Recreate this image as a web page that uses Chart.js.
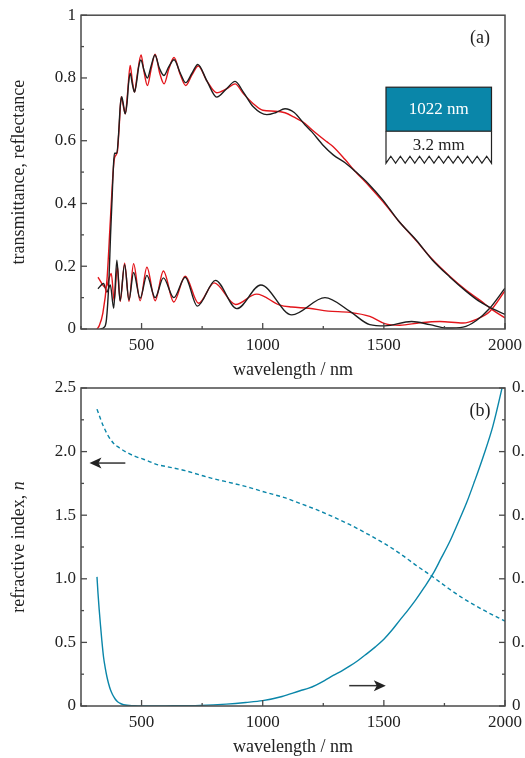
<!DOCTYPE html>
<html>
<head>
<meta charset="utf-8">
<script src="https://cdn.jsdelivr.net/npm/chart.js@4.4.1/dist/chart.umd.min.js"></script>
<style>
  html, body { margin: 0; padding: 0; background: #fff; overflow: hidden; }
  #wrap { position: relative; width: 525px; height: 758px; overflow: hidden; }
  canvas { position: absolute; left: 0; }
  #chartA { top: 0; }
  #chartB { top: 370px; }
</style>
</head>
<body>
<div id="wrap">
  <canvas id="chartA" width="560" height="381"></canvas>
  <canvas id="chartB" width="560" height="388"></canvas>
</div>
<script>
// (a) measured (black) and fitted (red) transmittance
const wlTmeas = [330,345,355,365,372,378,384,388,398,405,412,418,424,432,440,446,453,462,471,480,488,497,510,524,540,555,574,592,612,634,660,682,708,732,770,810,850,886,920,961,1017,1055,1092,1130,1175,1202,1250,1291,1340,1381,1440,1497,1560,1635,1700,1772,1840,1896,1950,2000];
const tMeas = [0,0.005,0.03,0.15,0.3,0.41,0.52,0.56,0.56,0.62,0.71,0.74,0.72,0.686,0.72,0.78,0.815,0.78,0.755,0.79,0.835,0.857,0.825,0.80,0.84,0.873,0.83,0.808,0.835,0.858,0.815,0.785,0.815,0.843,0.79,0.739,0.765,0.789,0.755,0.708,0.683,0.69,0.702,0.69,0.65,0.629,0.585,0.555,0.53,0.503,0.46,0.41,0.345,0.282,0.22,0.166,0.12,0.087,0.064,0.047];
const wlTfit = [316,325,340,357,371,380,387,395,401,408,416,426,433,442,453,462,471,482,498,510,524,540,556,575,593,613,634,660,682,708,734,770,810,850,886,920,961,1000,1050,1092,1130,1175,1202,1264,1291,1340,1381,1440,1497,1560,1635,1700,1772,1840,1896,1950,2000];
const tFit = [0,0.01,0.05,0.155,0.345,0.47,0.54,0.555,0.57,0.65,0.74,0.705,0.686,0.75,0.84,0.79,0.755,0.81,0.873,0.82,0.776,0.83,0.876,0.815,0.781,0.83,0.865,0.81,0.776,0.81,0.838,0.79,0.753,0.765,0.781,0.75,0.718,0.697,0.694,0.689,0.675,0.655,0.636,0.597,0.581,0.54,0.503,0.455,0.405,0.345,0.28,0.222,0.168,0.123,0.092,0.06,0.035];

// (a) measured (black) and fitted (red) reflectance
const wlRmeas = [320,343,357,371,385,398,411,430,448,467,494,522,556,590,633,680,730,805,893,992,1120,1257,1360,1442,1504,1614,1690,1759,1827,1882,1937,2000];
const rMeas = [0.128,0.145,0.118,0.14,0.066,0.219,0.09,0.205,0.093,0.18,0.098,0.171,0.1,0.163,0.1,0.165,0.073,0.155,0.065,0.14,0.045,0.1,0.056,0.014,0.01,0.024,0.014,0.003,0.006,0.027,0.066,0.13];
const wlRfit = [320,352,375,387,400,412,430,448,467,494,522,556,590,633,680,735,800,888,975,1071,1120,1190,1270,1360,1442,1504,1566,1649,1731,1827,1882,1937,2000];
const rFit = [0.165,0.132,0.177,0.09,0.2,0.088,0.21,0.088,0.208,0.09,0.197,0.09,0.185,0.086,0.168,0.082,0.147,0.078,0.111,0.076,0.07,0.066,0.057,0.053,0.04,0.017,0.012,0.02,0.024,0.019,0.031,0.056,0.122];

// (b) refractive index n (dashed, left axis) and k (solid, right axis)
const wlN = [316,330,343,364,384,408,433,470,508,570,604,680,742,790,879,950,1017,1090,1154,1220,1291,1360,1429,1500,1566,1630,1703,1770,1841,1920,2000];
const nVal = [2.334,2.26,2.197,2.118,2.066,2.03,2.0,1.965,1.94,1.895,1.882,1.85,1.816,1.79,1.75,1.715,1.677,1.638,1.593,1.545,1.487,1.425,1.356,1.28,1.199,1.11,1.014,0.92,0.83,0.745,0.668];
const wlK = [316,320,325,330,336,343,350,357,364,372,380,391,400,410,420,433,450,470,500,600,742,850,930,1000,1080,1154,1190,1220,1255,1291,1325,1360,1395,1429,1465,1500,1533,1566,1598,1630,1666,1703,1736,1770,1805,1841,1875,1910,1950,2000];
const kVal = [0.203,0.178,0.152,0.129,0.103,0.077,0.06,0.046,0.035,0.025,0.018,0.011,0.007,0.0045,0.0028,0.0016,0.0008,0.0003,0,0.0002,0.001,0.003,0.0055,0.0084,0.015,0.024,0.028,0.033,0.04,0.048,0.055,0.063,0.072,0.082,0.093,0.105,0.119,0.135,0.15,0.166,0.186,0.208,0.232,0.257,0.287,0.319,0.354,0.392,0.44,0.52];

// axes
const xTicks = [500, 1000, 1500, 2000];
const xLabels = ['500', '1000', '1500', '2000'];
const yTicksA = [0, 0.2, 0.4, 0.6, 0.8, 1];
const yLabelsA = ['0', '0.2', '0.4', '0.6', '0.8', '1'];
const yTicksN = [0, 0.5, 1, 1.5, 2, 2.5];
const yLabelsN = ['0', '0.5', '1.0', '1.5', '2.0', '2.5'];
const yTicksK = [0, 0.1, 0.2, 0.3, 0.4, 0.5];
const yLabelsK = ['0', '0.1', '0.2', '0.3', '0.4', '0.5'];

const axisColor = '#4a4a4a';
const textColor = '#222';
const teal = '#0a86a9';
const serif = "'Liberation Serif', 'Times New Roman', serif";

Chart.defaults.font.family = serif;
Chart.defaults.color = textColor;

function pts(xs, ys) { return xs.map((x, i) => ({ x: x, y: ys[i] })); }
function setTicks(vals) { return s => { s.ticks = vals.map(v => ({ value: v })); }; }
function line(data, color, extra) {
  return Object.assign({
    data: data, borderColor: color, borderWidth: 1.4, pointRadius: 0,
    cubicInterpolationMode: 'monotone', fill: false
  }, extra || {});
}

// frame + inward tick marks (major from scale ticks, minor halfway)
const frameTicks = {
  id: 'frameTicks',
  afterDraw(chart, args, opts) {
    const { ctx, chartArea: a } = chart;
    ctx.save();
    ctx.strokeStyle = axisColor;
    ctx.lineWidth = 1.5;
    ctx.strokeRect(a.left, a.top, a.right - a.left, a.bottom - a.top);
    ctx.lineWidth = 1.3;
    opts.axes.forEach(id => {
      const s = chart.scales[id];
      const vals = s.ticks.map(t => t.value);
      const marks = [];
      vals.forEach((v, i) => {
        marks.push([v, 6]);
        if (i > 0) marks.push([(v + vals[i - 1]) / 2, 3]);
      });
      if (id === 'x') marks.push([vals[0] - (vals[1] - vals[0]) / 2, 3]);
      marks.forEach(([v, len]) => {
        const p = s.getPixelForValue(v);
        ctx.beginPath();
        if (id === 'x') {
          if (p < a.left - 0.5 || p > a.right + 0.5) return;
          ctx.moveTo(p, a.bottom); ctx.lineTo(p, a.bottom - len);
        } else if (s.position === 'left') {
          ctx.moveTo(a.left, p); ctx.lineTo(a.left + len, p);
        } else {
          ctx.moveTo(a.right, p); ctx.lineTo(a.right - len, p);
        }
        ctx.stroke();
      });
    });
    // panel label
    ctx.fillStyle = textColor;
    ctx.font = '18px ' + serif;
    ctx.textAlign = 'center';
    ctx.textBaseline = 'middle';
    ctx.fillText(opts.label, a.right - 25, a.top + 23);
    ctx.restore();
  }
};

// film / substrate sketch in panel (a)
const insetSketch = {
  id: 'insetSketch',
  afterDraw(chart) {
    const { ctx, chartArea: a } = chart;
    const l = a.right - 119, r = a.right - 13.5;
    const t = a.top + 72, mid = a.top + 116, b = a.top + 148;
    ctx.save();
    ctx.fillStyle = teal;
    ctx.fillRect(l, t, r - l, mid - t);
    ctx.strokeStyle = '#222';
    ctx.lineWidth = 1.2;
    ctx.strokeRect(l, t, r - l, mid - t);
    ctx.beginPath();
    ctx.moveTo(l, mid); ctx.lineTo(l, b);
    const teeth = 11, w = (r - l) / teeth;
    for (let i = 0; i < teeth; i++) {
      ctx.lineTo(l + (i + 0.5) * w, b - 7);
      ctx.lineTo(l + (i + 1) * w, b);
    }
    ctx.lineTo(r, mid);
    ctx.stroke();
    ctx.font = '17px ' + serif;
    ctx.textAlign = 'center';
    ctx.textBaseline = 'middle';
    ctx.fillStyle = '#fff';
    ctx.fillText('1022 nm', (l + r) / 2, (t + mid) / 2);
    ctx.fillStyle = textColor;
    ctx.fillText('3.2 mm', (l + r) / 2, mid + 14);
    ctx.restore();
  }
};

// arrows pointing to the axis of each curve in panel (b), plus the y title with italic n
const arrowN = { from: 433, to: 285, value: 1.91 };
const arrowK = { from: 1357, to: 1508, value: 0.032 };
function drawArrow(ctx, x0, y, x1) {
  const dir = Math.sign(x1 - x0);
  ctx.beginPath();
  ctx.moveTo(x0, y); ctx.lineTo(x1 - dir * 8, y);
  ctx.stroke();
  ctx.beginPath();
  ctx.moveTo(x1, y);
  ctx.lineTo(x1 - dir * 12, y - 5.5);
  ctx.lineTo(x1 - dir * 9, y);
  ctx.lineTo(x1 - dir * 12, y + 5.5);
  ctx.closePath();
  ctx.fill();
}
const panelB = {
  id: 'panelB',
  afterDraw(chart) {
    const { ctx, chartArea: a, scales } = chart;
    ctx.save();
    ctx.strokeStyle = '#333';
    ctx.fillStyle = '#222';
    ctx.lineWidth = 1.5;
    drawArrow(ctx, scales.x.getPixelForValue(arrowN.from), scales.y.getPixelForValue(arrowN.value), scales.x.getPixelForValue(arrowN.to));
    drawArrow(ctx, scales.x.getPixelForValue(arrowK.from), scales.y2.getPixelForValue(arrowK.value), scales.x.getPixelForValue(arrowK.to));
    const t1 = 'refractive index, ', t2 = 'n';
    const f1 = '18px ' + serif, f2 = 'italic 18px ' + serif;
    ctx.font = f1; const w1 = ctx.measureText(t1).width;
    ctx.font = f2; const w2 = ctx.measureText(t2).width;
    ctx.translate(19, (a.top + a.bottom) / 2);
    ctx.rotate(-Math.PI / 2);
    ctx.textBaseline = 'middle';
    ctx.textAlign = 'left';
    ctx.fillStyle = textColor;
    ctx.font = f1; ctx.fillText(t1, -(w1 + w2) / 2, 0);
    ctx.font = f2; ctx.fillText(t2, -(w1 + w2) / 2 + w1, 0);
    ctx.restore();
  }
};

const tickFont = { size: 17, family: serif };
const titleFont = { size: 18, family: serif };

function xScale() {
  return {
    type: 'linear', min: 250, max: 2000,
    afterBuildTicks: setTicks(xTicks),
    afterFit: s => { s.height = 52; },
    grid: { display: false, drawTicks: false },
    border: { display: false },
    ticks: { font: tickFont, color: textColor, padding: 6, maxRotation: 0, callback: (v, i) => xLabels[i] },
    title: { display: true, text: 'wavelength / nm', font: titleFont, color: textColor, padding: 0 }
  };
}

new Chart(document.getElementById('chartA'), {
  type: 'line',
  data: {
    datasets: [
      line(pts(wlTmeas, tMeas), '#1e1e1e'),
      line(pts(wlTfit, tFit), '#e3151b'),
      line(pts(wlRmeas, rMeas), '#1e1e1e'),
      line(pts(wlRfit, rFit), '#e3151b')
    ]
  },
  options: {
    responsive: false,
    animation: false,
    layout: { padding: { left: 0, right: 55, top: 12, bottom: 0 } },
    plugins: { legend: { display: false }, tooltip: { enabled: false }, frameTicks: { axes: ['x', 'y'], label: '(a)' } },
    scales: {
      x: xScale(),
      y: {
        type: 'linear', min: 0, max: 1,
        afterBuildTicks: setTicks(yTicksA),
        afterFit: s => { s.width = 81; },
        grid: { display: false, drawTicks: false },
        border: { display: false },
        ticks: { font: tickFont, color: textColor, padding: 5, callback: (v, i) => yLabelsA[i] },
        title: { display: true, text: 'transmittance, reflectance', font: titleFont, color: textColor, padding: { top: 8, bottom: 0 } }
      }
    }
  },
  plugins: [frameTicks, insetSketch]
});

new Chart(document.getElementById('chartB'), {
  type: 'line',
  data: {
    datasets: [
      line(pts(wlN, nVal), teal, { yAxisID: 'y', borderDash: [4, 3] }),
      line(pts(wlK, kVal), teal, { yAxisID: 'y2' })
    ]
  },
  options: {
    responsive: false,
    animation: false,
    layout: { padding: { left: 0, right: 0, top: 18, bottom: 0 } },
    plugins: { legend: { display: false }, tooltip: { enabled: false }, frameTicks: { axes: ['x', 'y', 'y2'], label: '(b)' } },
    scales: {
      x: xScale(),
      y: {
        type: 'linear', position: 'left', min: 0, max: 2.5,
        afterBuildTicks: setTicks(yTicksN),
        afterFit: s => { s.width = 81; },
        grid: { display: false, drawTicks: false },
        border: { display: false },
        ticks: { font: tickFont, color: textColor, padding: 5, callback: (v, i) => yLabelsN[i] }
      },
      y2: {
        type: 'linear', position: 'right', min: 0, max: 0.5,
        afterBuildTicks: setTicks(yTicksK),
        afterFit: s => { s.width = 55; },
        grid: { display: false, drawTicks: false },
        border: { display: false },
        ticks: { font: tickFont, color: textColor, padding: 7, callback: (v, i) => yLabelsK[i] }
      }
    }
  },
  plugins: [frameTicks, panelB]
});
</script>
</body>
</html>
